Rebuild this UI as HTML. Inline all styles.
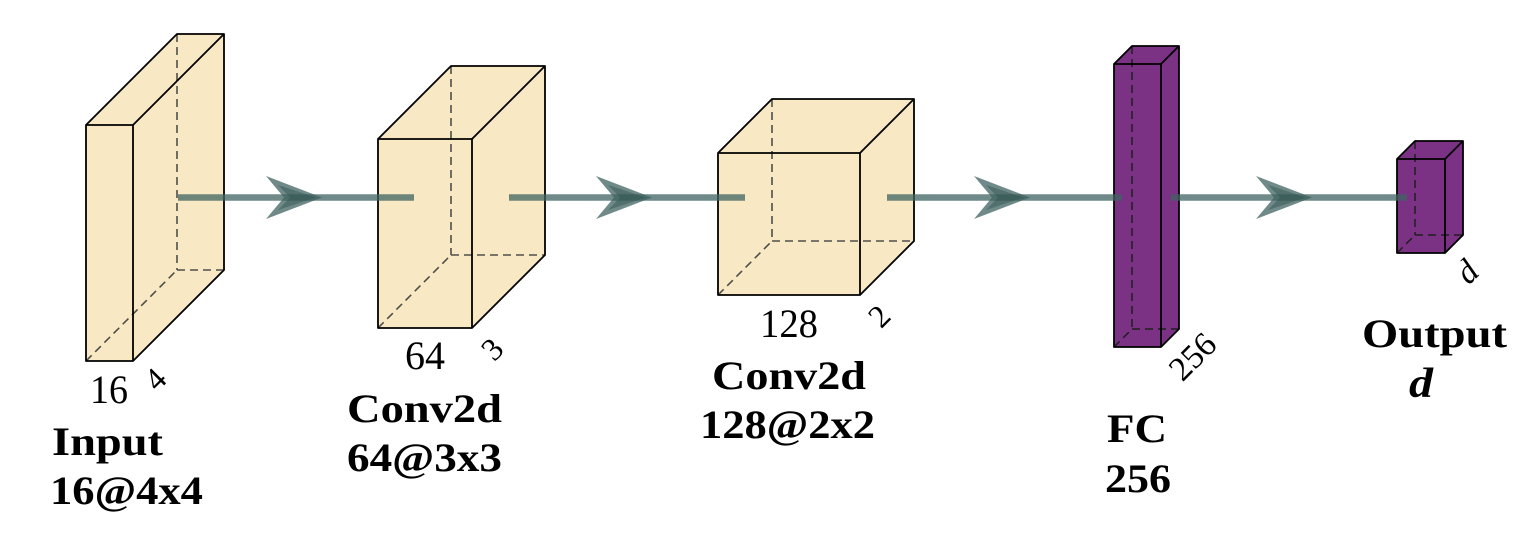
<!DOCTYPE html>
<html>
<head>
<meta charset="utf-8">
<style>
html,body{margin:0;padding:0;background:#fff;}
svg{display:block;}
text{font-family:"Liberation Serif","DejaVu Serif",serif;fill:#000;}
.b{font-weight:bold;}
</style>
</head>
<body>
<svg width="1534" height="551" viewBox="0 0 1534 551" xmlns="http://www.w3.org/2000/svg">
  <!-- Box 1 -->
  <g stroke-linejoin="round">
    <polygon points="86,125 177,34 224,34 224,270 133,361 86,361" fill="#f8e8c4"/>
    <g stroke="#4f4f4a" stroke-width="1.6" stroke-dasharray="8,5" fill="none">
      <line x1="177" y1="34" x2="177" y2="270"/>
      <line x1="177" y1="270" x2="224" y2="270"/>
      <line x1="86" y1="361" x2="177" y2="270"/>
    </g>
    <g stroke="#000" stroke-width="1.8" fill="none">
      <rect x="86" y="125" width="47" height="236"/>
      <polyline points="86,125 177,34 224,34 224,270 133,361"/>
      <line x1="133" y1="125" x2="224" y2="34"/>
    </g>
  </g>
  <!-- Box 2 -->
  <g stroke-linejoin="round">
    <polygon points="378,139 451,66 545,66 545,255 472,328 378,328" fill="#f8e8c4"/>
    <g stroke="#4f4f4a" stroke-width="1.6" stroke-dasharray="8,5" fill="none">
      <line x1="451" y1="66" x2="451" y2="255"/>
      <line x1="451" y1="255" x2="545" y2="255"/>
      <line x1="378" y1="328" x2="451" y2="255"/>
    </g>
    <g stroke="#000" stroke-width="1.8" fill="none">
      <rect x="378" y="139" width="94" height="189"/>
      <polyline points="378,139 451,66 545,66 545,255 472,328"/>
      <line x1="472" y1="139" x2="545" y2="66"/>
    </g>
  </g>
  <!-- Box 3 -->
  <g stroke-linejoin="round">
    <polygon points="718,153 772,99 914,99 914,241 860,295 718,295" fill="#f8e8c4"/>
    <g stroke="#4f4f4a" stroke-width="1.6" stroke-dasharray="8,5" fill="none">
      <line x1="772" y1="99" x2="772" y2="241"/>
      <line x1="772" y1="241" x2="914" y2="241"/>
      <line x1="718" y1="295" x2="772" y2="241"/>
    </g>
    <g stroke="#000" stroke-width="1.8" fill="none">
      <rect x="718" y="153" width="142" height="142"/>
      <polyline points="718,153 772,99 914,99 914,241 860,295"/>
      <line x1="860" y1="153" x2="914" y2="99"/>
    </g>
  </g>
  <!-- Box 4 FC -->
  <g stroke-linejoin="round">
    <polygon points="1114,64 1132,46 1179,46 1179,329 1161,347 1114,347" fill="#7b3284"/>
    <g stroke="#1e1e1e" stroke-width="1.5" stroke-dasharray="8,5" fill="none">
      <line x1="1132" y1="46" x2="1132" y2="329"/>
      <line x1="1132" y1="329" x2="1179" y2="329"/>
      <line x1="1114" y1="347" x2="1132" y2="329"/>
    </g>
    <g stroke="#000" stroke-width="1.8" fill="none">
      <rect x="1114" y="64" width="47" height="283"/>
      <polyline points="1114,64 1132,46 1179,46 1179,329 1161,347"/>
      <line x1="1161" y1="64" x2="1179" y2="46"/>
    </g>
  </g>
  <!-- Box 5 Output -->
  <g stroke-linejoin="round">
    <polygon points="1397,159 1415,141 1463,141 1463,235 1445,253 1397,253" fill="#7b3284"/>
    <g stroke="#1e1e1e" stroke-width="1.5" stroke-dasharray="8,5" fill="none">
      <line x1="1415" y1="141" x2="1415" y2="235"/>
      <line x1="1415" y1="235" x2="1463" y2="235"/>
      <line x1="1397" y1="253" x2="1415" y2="235"/>
    </g>
    <g stroke="#000" stroke-width="1.8" fill="none">
      <rect x="1397" y="159" width="48" height="94"/>
      <polyline points="1397,159 1415,141 1463,141 1463,235 1445,253"/>
      <line x1="1445" y1="159" x2="1463" y2="141"/>
    </g>
  </g>

  <!-- Connectors -->
  <g stroke="#3f6360" stroke-opacity="0.75" stroke-width="6.5" fill="none">
    <line x1="178" y1="197.5" x2="414" y2="197.5"/>
    <line x1="509" y1="197.5" x2="745" y2="197.5"/>
    <line x1="887" y1="197.5" x2="1122" y2="197.5"/>
    <line x1="1171" y1="197.5" x2="1407" y2="197.5"/>
  </g>
  <g fill="#3f6360" fill-opacity="0.75">
    <polygon points="322,197.5 266,176 284,197.5 266,219"/>
    <polygon points="652,197.5 596,176 614,197.5 596,219"/>
    <polygon points="1030,197.5 974,176 992,197.5 974,219"/>
    <polygon points="1312,197.5 1256,176 1274,197.5 1256,219"/>
  </g>
  <g fill="#2f504d" fill-opacity="0.45">
    <polygon points="316,197.5 278,185 290,197.5 278,210"/>
    <polygon points="646,197.5 608,185 620,197.5 608,210"/>
    <polygon points="1024,197.5 986,185 998,197.5 986,210"/>
    <polygon points="1306,197.5 1268,185 1280,197.5 1268,210"/>
  </g>

  <!-- Dimension labels -->
  <text x="90" y="403" font-size="40" textLength="38" lengthAdjust="spacingAndGlyphs">16</text>
  <text x="405" y="369" font-size="40" textLength="40" lengthAdjust="spacingAndGlyphs">64</text>
  <text x="760" y="337" font-size="40" textLength="58" lengthAdjust="spacingAndGlyphs">128</text>

  <text font-size="32" text-anchor="middle" transform="translate(155,379) rotate(-45)" dy="11">4</text>
  <text font-size="32" text-anchor="middle" transform="translate(492,349) rotate(-45)" dy="11">3</text>
  <text font-size="32" text-anchor="middle" transform="translate(879,316) rotate(-45)" dy="11">2</text>
  <text font-size="34" text-anchor="middle" transform="translate(1192,356) rotate(-45)" dy="12">256</text>
  <text font-size="34" font-style="italic" text-anchor="middle" transform="translate(1467,272) rotate(-45)" dy="11">d</text>

  <!-- Layer captions -->
  <text class="b" x="52" y="455" font-size="40" textLength="111" lengthAdjust="spacingAndGlyphs">Input</text>
  <text class="b" x="50" y="504" font-size="40" textLength="153" lengthAdjust="spacingAndGlyphs">16@4x4</text>

  <text class="b" x="347" y="422" font-size="40" textLength="155" lengthAdjust="spacingAndGlyphs">Conv2d</text>
  <text class="b" x="347" y="471" font-size="40" textLength="155" lengthAdjust="spacingAndGlyphs">64@3x3</text>

  <text class="b" x="712" y="389" font-size="40" textLength="154" lengthAdjust="spacingAndGlyphs">Conv2d</text>
  <text class="b" x="700" y="438" font-size="40" textLength="175" lengthAdjust="spacingAndGlyphs">128@2x2</text>

  <text class="b" x="1107" y="442" font-size="40" textLength="60" lengthAdjust="spacingAndGlyphs">FC</text>
  <text class="b" x="1105" y="492" font-size="40" textLength="66" lengthAdjust="spacingAndGlyphs">256</text>

  <text class="b" x="1362" y="347" font-size="40" textLength="145" lengthAdjust="spacingAndGlyphs">Output</text>
  <text class="b" x="1409" y="397" font-size="42" font-style="italic" textLength="24" lengthAdjust="spacingAndGlyphs">d</text>
</svg>
</body>
</html>
